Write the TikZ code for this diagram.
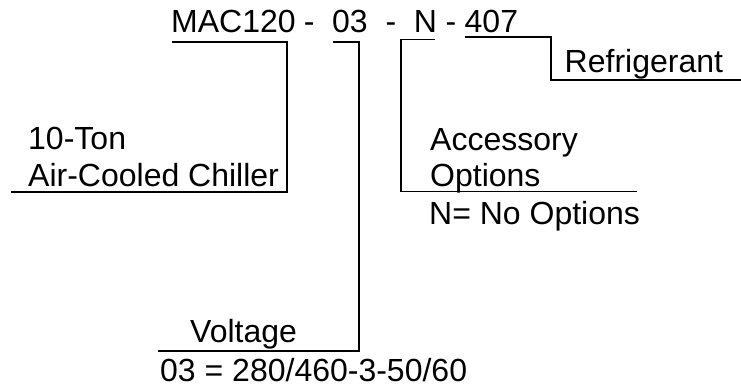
\documentclass[tikz,border=0pt]{standalone}
\usepackage{fontspec}
\setmainfont{Liberation Sans}
\begin{document}
\begin{tikzpicture}[x=1pt,y=-1pt,
  lbl/.style={inner sep=0pt,anchor=base west,font=\fontsize{32}{38}\selectfont},
  guide/.style={draw=black,line width=1.7pt}]
\useasboundingbox (0,0) rectangle (741,391);
% top code
\node[lbl] (mac) at (171,32) {MAC120};
\node[lbl] (d1) at (303.6,32) {-};
\node[lbl] (v03) at (332,32) {03};
\node[lbl] (d2) at (385.3,32) {-};
\node[lbl] (nn) at (413.6,32) {N};
\node[lbl] (d3) at (445.3,32) {-};
\node[lbl] (r407) at (464.5,32) {407};
% labels
\node[lbl] (ton) at (28,149) {10-Ton};
\node[lbl] (acc) at (28,186) {Air-Cooled Chiller};
\node[lbl] (volt) at (190,342) {Voltage};
\node[lbl] (vval) at (160,381) {03 = 280/460-3-50/60};
\node[lbl] (aopt) at (430,150) {Accessory};
\node[lbl] (opts) at (430,186) {Options};
\node[lbl] (nopt) at (429,224) {N= No Options};
\node[lbl] (refr) at (564.5,72) {Refrigerant};
% corner coordinates
\coordinate (m1) at (172,42);
\coordinate (m2) at (287,42);
\coordinate (m3) at (287,192);
\coordinate (m4) at (11,192);
\coordinate (v1) at (333,42);
\coordinate (v2) at (359,42);
\coordinate (v3) at (359,351);
\coordinate (v4) at (158,351);
\coordinate (n1) at (435,39.5);
\coordinate (n2) at (401,39.5);
\coordinate (n3) at (401,191.5);
\coordinate (n4) at (637,191.5);
\coordinate (r1) at (465,37);
\coordinate (r2) at (551,37);
\coordinate (r3) at (551,80);
\coordinate (r4) at (741,80);
% guide lines
\draw[guide] (m1) -- (m2) -- (m3) -- (m4);
\draw[guide] (v1) -- (v2) -- (v3) -- (v4);
\draw[guide] (n1) -- (n2) -- (n3) -- (n4);
\draw[guide] (r1) -- (r2) -- (r3) -- (r4);
\end{tikzpicture}
\end{document}
